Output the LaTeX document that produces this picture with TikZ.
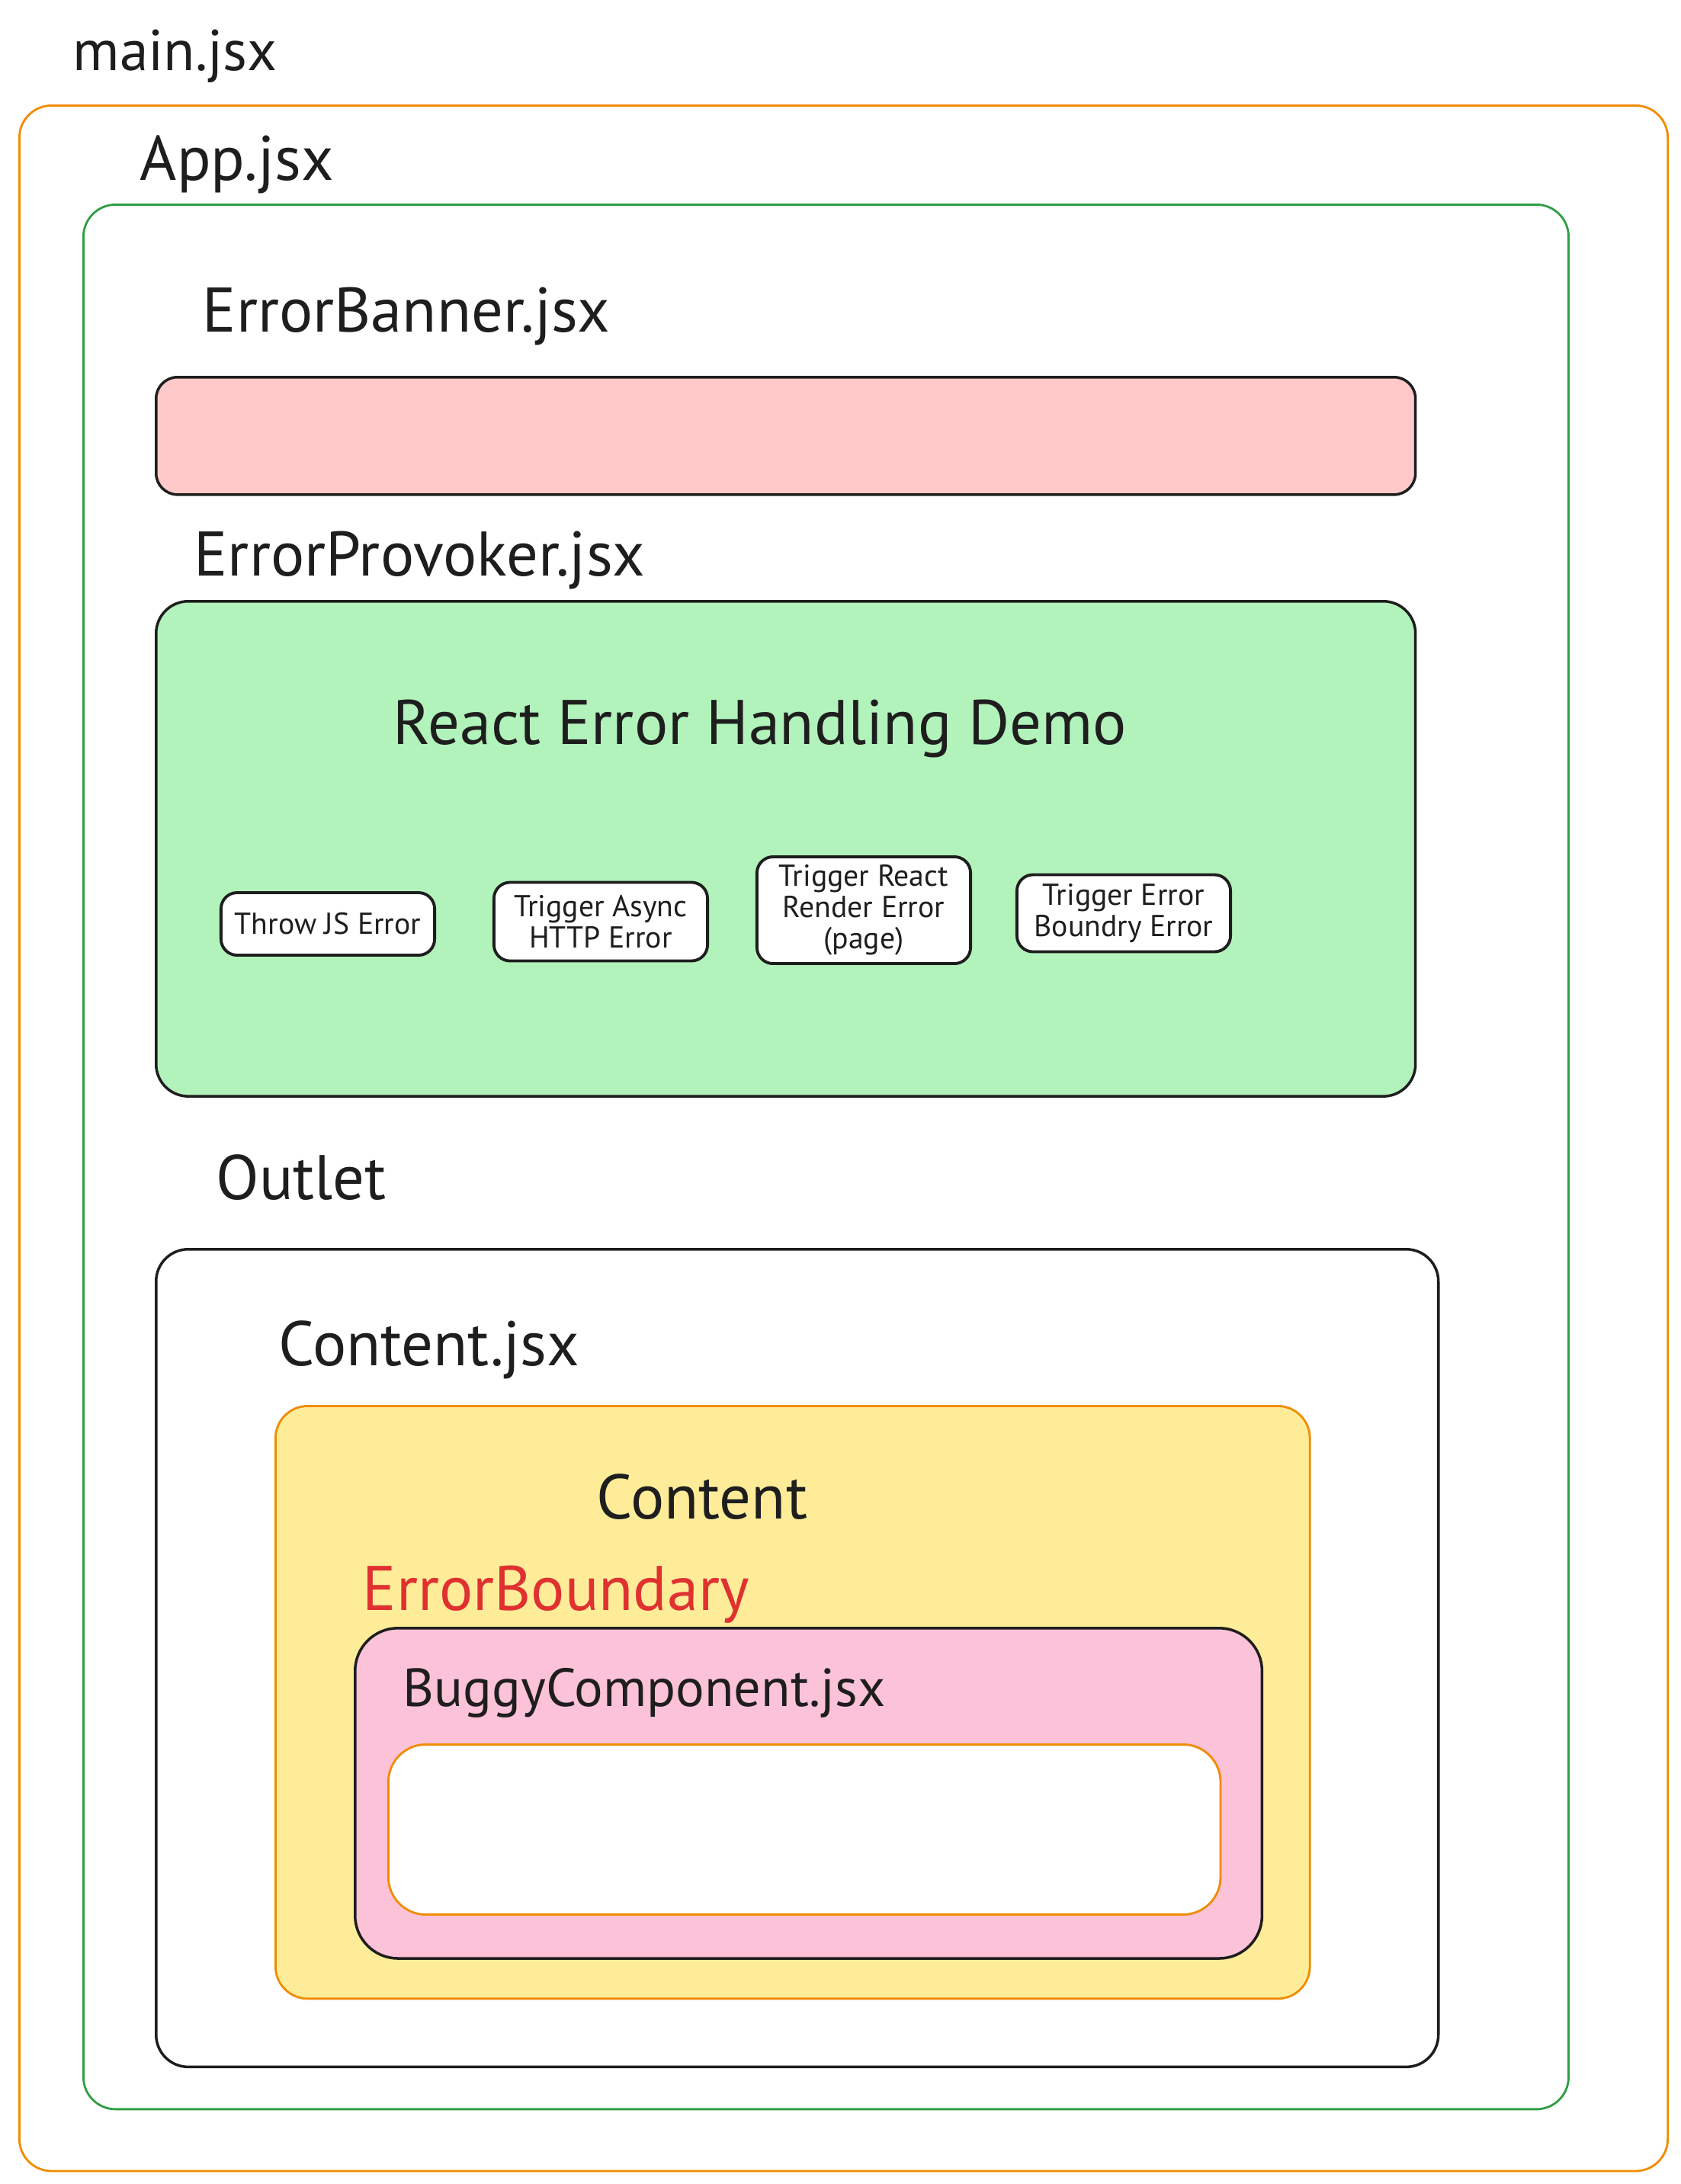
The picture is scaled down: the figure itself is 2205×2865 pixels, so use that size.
\documentclass[tikz,border=0pt]{standalone}
\usepackage{fontspec}
\setmainfont{PT Sans}
\usetikzlibrary{positioning,backgrounds}

\definecolor{excali_orange}{HTML}{F08C00}
\definecolor{excali_green}{HTML}{2F9E44}
\definecolor{excali_ink}{HTML}{1E1E1E}
\definecolor{excali_red}{HTML}{E03131}
\definecolor{fill_banner}{HTML}{FFC9C9}
\definecolor{fill_provoker}{HTML}{B2F2BB}
\definecolor{fill_content}{HTML}{FFEC99}
\definecolor{fill_buggy}{HTML}{FCC2D7}

\begin{document}
\begin{tikzpicture}[
  x=0.01cm,y=-0.01cm,
  color=excali_ink,
  frame/.style={rectangle,line width=.8pt,inner sep=0pt,anchor=north west,rounded corners=12pt},
  frame_orange/.style={frame,draw=excali_orange},
  frame_green/.style={frame,draw=excali_green},
  frame_ink/.style={frame,draw=excali_ink,line width=1pt},
  title/.style={anchor=mid west,inner sep=0pt,font=\fontsize{23.5}{28}\selectfont},
  btn/.style={rectangle,draw=excali_ink,line width=1.1pt,fill=white,rounded corners=6pt,inner sep=0pt,
    minimum width=2.8cm,align=center,font=\fontsize{11.3}{11.6}\selectfont}
  ]
\useasboundingbox (0,0) rectangle (2205,2865);

%main
  \node (main_lbl) [title,font=\fontsize{21.5}{26}\selectfont] at(95,84) {main.jsx};
  \node (main_box) [frame_orange,minimum width=21.61cm,minimum height=27.08cm] at(24,137) {};

%app
  \node (app_lbl) [title] at(183,228) {App.jsx};
  \node (app_box) [frame_green,minimum width=19.47cm,minimum height=24.97cm] at(108,267) {};

%banner
  \node (banner_lbl) [title] at(265,427) {ErrorBanner.jsx};
  \node (banner_box) [frame_ink,fill=fill_banner,rounded corners=8pt,minimum width=16.51cm,minimum height=1.54cm] at(203,493) {};

%provoker
  \node (provoker_lbl) [title] at(254,747) {ErrorProvoker.jsx};
  \node (provoker_box) [frame_ink,fill=fill_provoker,minimum width=16.51cm,minimum height=6.49cm] at(203,787) {};
  \node (provoker_head) [title,anchor=mid] at(997,968) {React Error Handling Demo};

  \node (btn_js) [btn,minimum height=.82cm] at(430,1212) {Throw JS Error};
  \node (btn_async) [btn,minimum height=1.03cm] at(788,1209) {Trigger Async\\HTTP Error};
  \node (btn_render) [btn,minimum height=1.40cm] at(1133,1194) {Trigger React\\Render Error\\(page)};
  \node (btn_boundry) [btn,minimum height=1.01cm] at(1474,1198) {Trigger Error\\Boundry Error};

%outlet
  \node (outlet_lbl) [title] at(283,1565) {Outlet};
  \node (outlet_box) [frame_ink,minimum width=16.81cm,minimum height=10.72cm] at(203,1637) {};

%content
  \node (content_lbl) [title] at(365,1783) {Content.jsx};
  \node (content_box) [frame_orange,fill=fill_content,minimum width=13.56cm,minimum height=7.77cm] at(360,1843) {};
  \node (content_head) [title,anchor=mid] at(921,1984) {Content};

%boundary
  \node (boundary_lbl) [title,text=excali_red] at(475,2104) {ErrorBoundary};
  \node (buggy_box) [frame_ink,fill=fill_buggy,rounded corners=16pt,minimum width=11.89cm,minimum height=4.33cm] at(464,2134) {};
  \node (buggy_lbl) [title,font=\fontsize{20}{24}\selectfont] at(528,2230) {BuggyComponent.jsx};
  \node (buggy_slot) [frame_orange,fill=white,rounded corners=14pt,minimum width=10.91cm,minimum height=2.23cm] at(508,2287) {};

\end{tikzpicture}
\end{document}
